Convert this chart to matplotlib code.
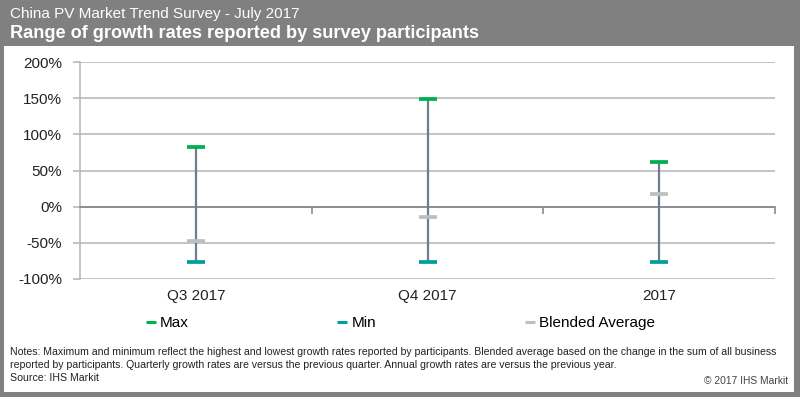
import matplotlib
matplotlib.use("Agg")
import matplotlib.pyplot as plt
import matplotlib.transforms as mtransforms
from matplotlib.patches import Rectangle
from matplotlib.lines import Line2D
import numpy as np

plt.rcParams['font.family'] = ['Liberation Sans', 'DejaVu Sans']

# --- data (growth rates, %) ---
categories = ["Q3 2017", "Q4 2017", "2017"]
max_vals = [83, 149, 62]
min_vals = [-76, -76, -76]
avg_vals = [-47, -14, 18]
y_ticks = [-100, -50, 0, 50, 100, 150, 200]
series_names = ["Max", "Min", "Blended Average"]

header_1 = "China PV Market Trend Survey - July 2017"
header_2 = "Range of growth rates reported by survey participants"
note_lines = [
    "Notes: Maximum and minimum reflect the highest and lowest growth rates reported by participants. "
    "Blended average based on the change in the sum of all business",
    "reported by participants. Quarterly growth rates are versus the previous quarter. "
    "Annual growth rates are versus the previous year.",
    "Source: IHS Markit",
]

GREEN = "#00B050"
TEAL = "#00A099"
LIGHT = "#BFBFBF"
RANGE = "#6F7D8B"
GRID = "#B4B4B4"
FRAME = "#808080"
colors = [GREEN, TEAL, LIGHT]

W, H = 800, 397
fig = plt.figure(figsize=(W / 100, H / 100), dpi=100)


def px_rect(x0, y0, w, h):
    # rectangle given in pixels from the top-left corner
    return Rectangle((x0 / W, 1 - (y0 + h) / H), w / W, h / H, transform=fig.transFigure,
                     facecolor=FRAME, edgecolor="none", zorder=0)


# --- header band and frame ---
for r in [px_rect(0, 0, W, 46), px_rect(0, 0, 4, H), px_rect(794, 0, 6, H), px_rect(0, 392, W, 5)]:
    fig.patches.append(r)
fig.text(10 / W, 1 - 14 / H, header_1, color="white", fontsize=11, va="center", ha="left")
fig.text(10 / W, 1 - 33 / H, header_2, color="white", fontsize=13.1, fontweight="bold",
         va="center", ha="left")

# --- axes ---
ax = fig.add_axes([80 / W, 1 - 279 / H, 695 / W, 217 / H])
x = np.arange(len(categories))

ax.vlines(x, min_vals, max_vals, color=RANGE, linewidth=1.6, zorder=3)
for vals, c in zip([max_vals, min_vals, avg_vals], colors):
    ax.plot(x, vals, linestyle="none", marker="_", ms=13.5, mew=2.7, color=c, zorder=4)

ax.set_xlim(-0.5, len(categories) - 0.5)
ax.set_ylim(-100, 200)
ax.set_yticks(y_ticks)
ax.set_yticklabels([f"{v}%" for v in y_ticks], fontsize=11, color="#222222")
ax.yaxis.grid(True, color=GRID, linewidth=1.1, zorder=1)
ax.set_axisbelow(True)

for side in ["top", "right"]:
    ax.spines[side].set_visible(False)
ax.spines["left"].set_color(GRID)
ax.spines["left"].set_linewidth(1.1)
ax.spines["bottom"].set_position(("data", 0))
ax.spines["bottom"].set_color("#7A828A")
ax.spines["bottom"].set_linewidth(1.1)
ax.tick_params(axis="y", length=5, color=GRID, width=1.1, pad=8)
ax.set_xticks(list(x[:-1] + 0.5) + [len(categories) - 0.5])
ax.tick_params(axis="x", length=5, color="#7A828A", width=1.1, labelbottom=False)

trans = mtransforms.blended_transform_factory(ax.transData, ax.transAxes)
for i, cat in enumerate(categories):
    ax.text(i, -0.08, cat, transform=trans, ha="center", va="center", fontsize=11, color="#222222")

handles = [Line2D([], [], linestyle="none", marker="_", ms=7, mew=2.2, color=c) for c in colors]
fig.legend(handles, series_names, loc="center left", bbox_to_anchor=(147 / W, 1 - 323 / H), ncol=3,
           frameon=False, fontsize=11, handlelength=0.5, handletextpad=0.35,
           columnspacing=9.8, borderaxespad=0, borderpad=0)

for k, line in enumerate(note_lines):
    fig.text(10 / W, 1 - (352 + 13 * k) / H, line, fontsize=7.53, va="center", ha="left",
             color="#222222")
fig.text(788 / W, 1 - 381 / H, "\u00a9 2017 IHS Markit", fontsize=7.4, va="center",
         ha="right", color="#444444")

fig.savefig("out.png", dpi=100)
